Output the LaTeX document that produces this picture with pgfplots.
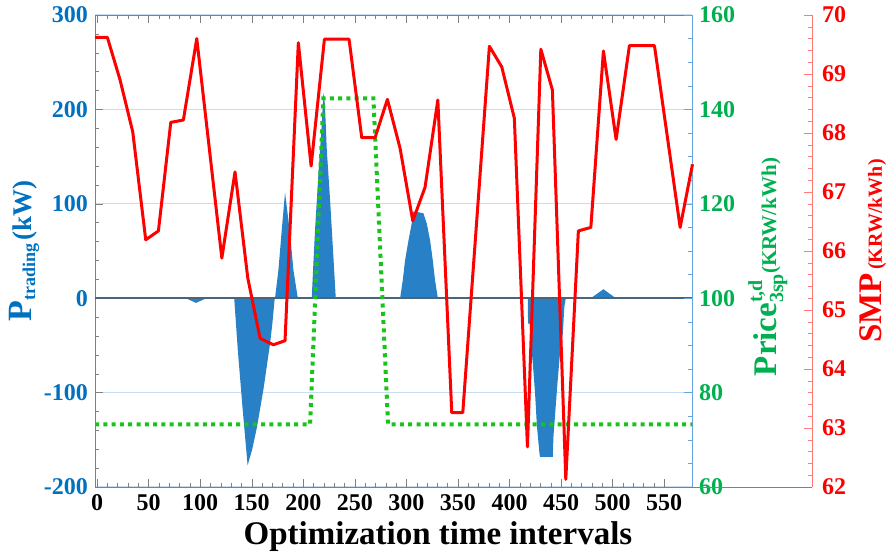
\documentclass[border=0pt]{standalone}
\usepackage{pgfplots}
\pgfplotsset{compat=1.18}
\usepackage{fontspec}
\setmainfont{Liberation Serif}
\definecolor{barblue}{RGB}{40,128,198}
\definecolor{lblue}{RGB}{0,112,192}
\definecolor{gtext}{RGB}{0,176,80}
\definecolor{gline}{RGB}{24,196,24}
\definecolor{gridc}{RGB}{200,222,240}
\definecolor{zeroc}{RGB}{75,100,125}
\definecolor{raxis}{RGB}{255,120,120}
\definecolor{baxis}{RGB}{100,165,225}
\begin{document}
\begin{tikzpicture}
\path[use as bounding box] (-47.5pt,-34pt) rectangle (396pt,243.5pt);
% ---------------- main axis: P_trading ----------------
\begin{axis}[
  at={(0pt,0pt)}, anchor=south west,
  scale only axis, width=298.5pt, height=236pt,
  xmin=-2, xmax=577, ymin=-200, ymax=300,
  xtick={0,50,...,550}, ytick={-200,-100,...,300},
  minor x tick num=4, minor y tick num=4,
  xtick pos=both, ytick pos=left, tick align=inside,
  major tick length=4pt, minor tick length=2pt,
  axis line style={gray}, tick style={gray},
  ymajorgrids, grid style={gridc, line width=0.6pt},
  /pgf/number format/assume math mode=true,
  xticklabel style={font=\bfseries\fontsize{12}{12}\selectfont, black},
  yticklabel style={font=\bfseries\fontsize{12}{12}\selectfont, lblue},
  xlabel={Optimization time intervals},
  every axis x label/.style={at={(axis description cs:0.5745,-0.106)}, anchor=center, font=\bfseries\fontsize{16.5}{18}\selectfont},
  ylabel={{\fontsize{17}{17}\selectfont P}{\fontsize{9}{9}\selectfont\raisebox{-2pt}{trading}}\,{\fontsize{13.5}{14}\selectfont(kW)}},
  every axis y label/.style={at={(axis description cs:-0.119,0.5)}, rotate=90, anchor=center, font=\bfseries, text=lblue},
]
\addplot[fill=barblue, draw=none] coordinates {(86,0)(96,-5)(106,0)} \closedcycle;
\addplot[fill=barblue, draw=none] coordinates {(133,0)(133.5,-8)(136.5,-55)(141,-115)(146,-177)(150.5,-160)(155,-137)(161.3,-97)(167.8,-48)(170,-27)(172.3,0)} \closedcycle;
\addplot[fill=barblue, draw=none] coordinates {(172.6,0)(175.9,30)(179.1,72)(182.3,112)(187.2,68)(190.4,30)(194.7,0)} \closedcycle;
\addplot[fill=barblue, draw=none] coordinates {(208.2,0)(209.8,37)(211.4,72)(214.7,132)(218,185)(219.5,218)(221,205)(222.8,157)(226,104)(229.2,44)(231.5,0)} \closedcycle;
\addplot[fill=barblue, draw=none] coordinates {(293.9,0)(296.5,19)(298.7,40)(302,61)(305.8,83)(306.8,92)(316.5,90)(319.8,79)(323,61)(325.6,40)(327.8,19)(330.5,0)} \closedcycle;
\addplot[fill=barblue, draw=none] coordinates {(417.7,0)(418,-27)(419.5,-27)(421,-50)(422.6,-69)(424.8,-101)(426.5,-134)(429,-164)(429.5,-168)(442,-168)(442.6,-147)(446.5,-90)(449,-58)(451.7,-37)(453.2,-9)(454.6,0)} \closedcycle;
\addplot[fill=barblue, draw=none] coordinates {(478.9,0)(491.1,9.5)(503.1,0)} \closedcycle;
\addplot[zeroc, line width=0.8pt] coordinates {(-2,0)(577,0)};
\end{axis}
% ---------------- green axis: Price ----------------
\begin{axis}[
  at={(0pt,0pt)}, anchor=south west,
  scale only axis, width=298.5pt, height=236pt,
  xmin=-2, xmax=577, ymin=60, ymax=160,
  axis x line=none, axis y line*=right,
  ytick={60,80,...,160}, minor y tick num=3, tick align=inside,
  major tick length=4pt, minor tick length=2pt,
  y axis line style={baxis}, ytick style={baxis},
  /pgf/number format/assume math mode=true,
  yticklabel style={font=\bfseries\fontsize{12}{12}\selectfont, gtext},
  ylabel={{\fontsize{16.5}{17}\selectfont Price}\rlap{\raisebox{7pt}{\fontsize{10}{10}\selectfont t,d}}\raisebox{-3.5pt}{\fontsize{10}{10}\selectfont 3sp}{\fontsize{10.5}{11}\selectfont(KRW/kWh)}},
  every axis y label/.style={at={(axis description cs:1.127,0.466)}, rotate=90, anchor=center, font=\bfseries, text=gtext},
]
\addplot[gline, line width=2pt, dash pattern=on 2pt off 2.15pt] coordinates {(-2,73.28)(206.6,73.28)(219.5,142.35)(268,142.35)(282.2,73.28)(577,73.28)};
\end{axis}
% ---------------- red axis: SMP ----------------
\begin{axis}[
  at={(0pt,0pt)}, anchor=south west,
  scale only axis, width=358.5pt, height=236pt,
  xmin=-2, xmax=693.4, ymin=62, ymax=70,
  axis x line*=bottom, axis y line*=right, xtick=\empty,
  ytick={62,63,...,70}, minor y tick num=4, tick align=inside,
  major tick length=4pt, minor tick length=2pt,
  y axis line style={raxis}, x axis line style={gray}, ytick style={raxis},
  /pgf/number format/assume math mode=true,
  yticklabel style={font=\bfseries\fontsize{12}{12}\selectfont, red, xshift=1.5pt},
  ylabel={{\fontsize{16.5}{17}\selectfont SMP}\,{\fontsize{10}{11}\selectfont(KRW/kWh)}},
  every axis y label/.style={at={(axis description cs:1.085,0.5)}, rotate=90, anchor=center, font=\bfseries, text=red},
]
\addplot[red, line width=1.5pt, line join=round] coordinates {
(-2,69.62)(10,69.62)(22.3,68.9)(34.6,68.02)(47.2,66.19)(59.5,66.34)(71.5,68.18)(83.7,68.22)(96.7,69.6)
(121,65.88)(133.8,67.34)(146.2,65.54)(158.1,64.52)(171,64.41)(182.3,64.48)(195.2,69.53)(207.6,67.44)
(220.5,69.59)(244.4,69.59)(256.7,67.92)(269.6,67.92)(281.6,68.57)(293.9,67.74)(306.2,66.51)(318.1,67.08)
(330.5,68.56)(344,63.26)(354.7,63.26)(380.5,69.47)(392.5,69.12)(404.7,68.25)(417.4,62.68)(430.4,69.42)
(441.6,68.73)(454.6,62.13)(466.8,66.34)(478.9,66.4)(491.1,69.39)(503.4,67.89)(516.3,69.48)(540.6,69.48)
(565.5,66.4)(577.5,67.47)};
\end{axis}
\end{tikzpicture}
\end{document}
